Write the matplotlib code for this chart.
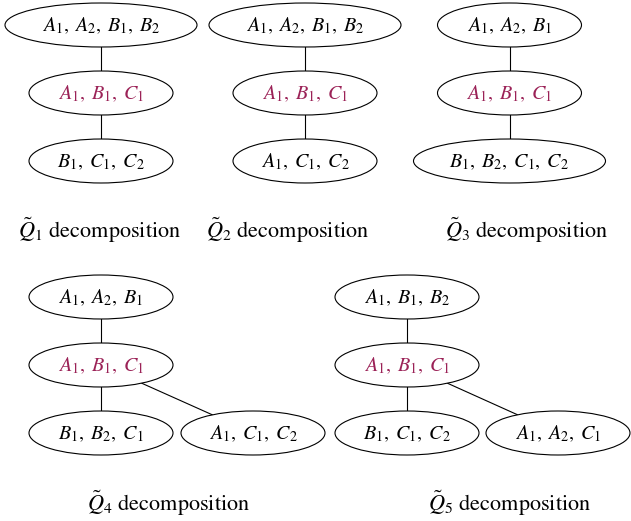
import numpy as np
import matplotlib
matplotlib.use('Agg')
import matplotlib.pyplot as plt
from matplotlib.patches import Ellipse

plt.rcParams['mathtext.fontset'] = 'stix'
plt.rcParams['font.family'] = 'STIXGeneral'

# tree labels per decomposition (top, middle, children of middle)
q1_nodes = ['A_1, A_2, B_1, B_2', 'A_1, B_1, C_1', 'B_1, C_1, C_2']
q2_nodes = ['A_1, A_2, B_1, B_2', 'A_1, B_1, C_1', 'A_1, C_1, C_2']
q3_nodes = ['A_1, A_2, B_1', 'A_1, B_1, C_1', 'B_1, B_2, C_1, C_2']
q4_nodes = ['A_1, A_2, B_1', 'A_1, B_1, C_1', 'B_1, B_2, C_1', 'A_1, C_1, C_2']
q5_nodes = ['A_1, B_1, B_2', 'A_1, B_1, C_1', 'B_1, C_1, C_2', 'A_1, A_2, C_1']
chain_edges = [(0, 1), (1, 2)]
fork_edges = [(0, 1), (1, 2), (1, 3)]
captions = [r'$\tilde{Q}_1$ decomposition', r'$\tilde{Q}_2$ decomposition',
            r'$\tilde{Q}_3$ decomposition', r'$\tilde{Q}_4$ decomposition',
            r'$\tilde{Q}_5$ decomposition']
root_index = 1  # highlighted bag

HIGHLIGHT = '#9b2257'
RY = 22
LEVEL = 68


def layout(nodes, cx, cy, dx):
    pos = [(cx, cy), (cx, cy + LEVEL), (cx, cy + 2 * LEVEL)]
    if len(nodes) > 3:
        pos.append((cx + dx, cy + 2 * LEVEL))
    return pos


def radius(label):
    return 24 * (label.count(',') + 1)


def clip_point(p, q, rx, ry):
    # point on ellipse centered at p in direction of q
    d = np.array(q, float) - np.array(p, float)
    t = 1.0 / np.sqrt((d[0] / rx) ** 2 + (d[1] / ry) ** 2)
    return p[0] + t * d[0], p[1] + t * d[1]


def draw_tree(ax, nodes, edges, pos):
    for a, b in edges:
        pa, pb = pos[a], pos[b]
        s = clip_point(pa, pb, radius(nodes[a]), RY)
        e = clip_point(pb, pa, radius(nodes[b]), RY)
        ax.plot([s[0], e[0]], [s[1], e[1]], color='black', lw=0.8)
    for i, (lab, (x, y)) in enumerate(zip(nodes, pos)):
        ax.add_patch(Ellipse((x, y), 2 * radius(lab), 2 * RY, fc='white',
                             ec='black', lw=0.8, zorder=2))
        col = HIGHLIGHT if i == root_index else 'black'
        ax.text(x, y + 1, '$' + lab.replace(', ', r',\;') + '$',
                ha='center', va='center', fontsize=14.5, color=col, zorder=3)


fig = plt.figure(figsize=(6.31, 5.21), dpi=100)
ax = fig.add_axes([0, 0, 1, 1])
ax.set_xlim(0, 631)
ax.set_ylim(521, 0)
ax.axis('off')

panels = [
    (q1_nodes, chain_edges, 101, 25, 0, (100, 230)),
    (q2_nodes, chain_edges, 305, 25, 0, (288, 230)),
    (q3_nodes, chain_edges, 509.5, 25, 0, (527, 230)),
    (q4_nodes, fork_edges, 101, 297, 152, (169, 503)),
    (q5_nodes, fork_edges, 407, 297, 151, (510, 503)),
]
for (nodes, edges, cx, cy, dx, cap), text in zip(panels, captions):
    draw_tree(ax, nodes, edges, layout(nodes, cx, cy, dx))
    ax.text(cap[0], cap[1], text, ha='center', va='center', fontsize=16)

fig.savefig('out.png', dpi=100)
